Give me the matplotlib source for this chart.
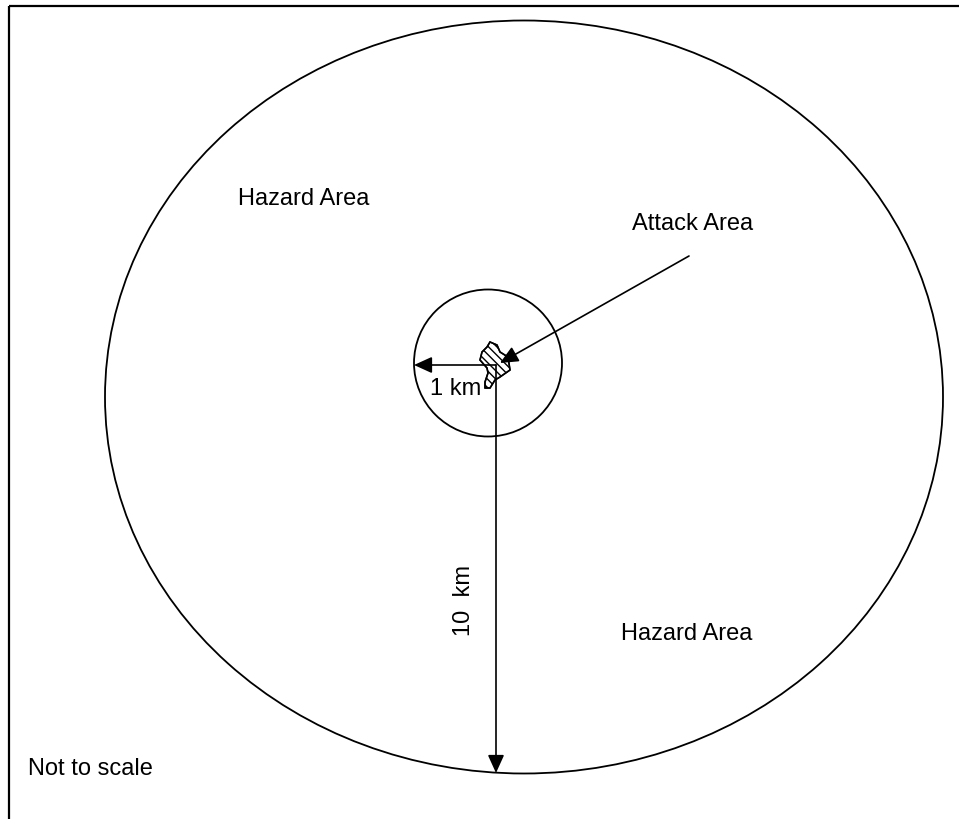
import matplotlib.pyplot as plt
from matplotlib.patches import Ellipse, Polygon, Rectangle

plt.rcParams["font.family"] = ["Liberation Sans", "DejaVu Sans"]
plt.rcParams["hatch.linewidth"] = 1.0
plt.rcParams["hatch.color"] = "#444444"

# zone labels and radii
zone_labels = ["Hazard Area", "Hazard Area", "Attack Area"]
radius_labels = ["1 km", "10 km"]
note = "Not to scale"

# attack area outline (pixel coordinates of the drawing)
blob_x = [490, 497, 500, 508, 510, 500, 495, 490, 485, 485, 488, 487, 480, 482, 487]
blob_y = [342, 345, 352, 357, 370, 377, 380, 388, 388, 382, 373, 368, 360, 352, 347]

fig = plt.figure(figsize=(9.59, 8.19), dpi=100)
ax = fig.add_axes([0, 0, 1, 1])
ax.set_xlim(0, 959)
ax.set_ylim(819, 0)
ax.axis("off")

# frame
ax.add_patch(Rectangle((8.5, 5.5), 960, 820, fill=False, lw=1.6, ec="black"))

# outer and inner zones
ax.add_patch(Ellipse((524, 397), 838, 753, fill=False, lw=1.3, ec="black"))
ax.add_patch(Ellipse((488, 363), 148, 147, fill=False, lw=1.3, ec="black"))

# attack area
outline = list(zip(blob_x, blob_y))
ax.add_patch(Polygon(outline, closed=True, fc="white", ec="black", lw=1.0,
                     hatch="\\\\\\\\"))
ax.add_patch(Polygon(outline, closed=True, fill=False, ec="black", lw=1.2))

arrow = dict(arrowstyle="-|>,head_length=1.1,head_width=0.5", color="black",
             lw=1.2, shrinkA=0, shrinkB=0)
ax.annotate("", xy=(414, 365), xytext=(496, 365), arrowprops=arrow)
ax.annotate("", xy=(496, 773), xytext=(496, 365), arrowprops=arrow)
ax.annotate("", xy=(500, 363), xytext=(689, 256), arrowprops=arrow)

fs = 17
ax.text(238, 205, zone_labels[0], fontsize=fs, va="baseline", ha="left")
ax.text(621, 640, zone_labels[1], fontsize=fs, va="baseline", ha="left")
ax.text(632, 230, zone_labels[2], fontsize=fs, va="baseline", ha="left")
ax.text(430, 395, radius_labels[0], fontsize=fs, va="baseline", ha="left")
ax.text(464, 601, radius_labels[1].replace(" ", "  "), fontsize=fs,
        va="center", ha="center", rotation=90)
ax.text(28, 775, note, fontsize=fs, va="baseline", ha="left")

fig.savefig("out.png", dpi=100)
